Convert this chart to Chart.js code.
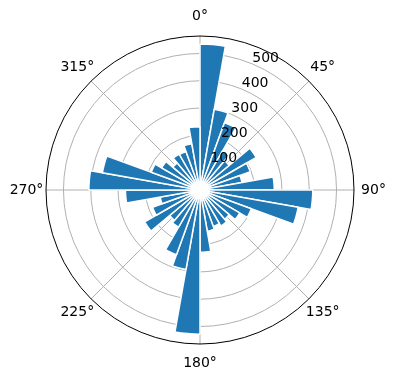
<!DOCTYPE html>
<html>
<head>
<meta charset="utf-8">
<script src="https://cdn.jsdelivr.net/npm/chart.js@4.4.1/dist/chart.umd.min.js"></script>
<style>
  html, body { margin: 0; padding: 0; background: #fff; }
</style>
</head>
<body>
<canvas id="rose" width="396" height="380"></canvas>
<script>
// 36 sectors of 10 degrees, clockwise from north
const directions = ['0°', '10°', '20°', '30°', '40°', '50°', '60°', '70°', '80°',
  '90°', '100°', '110°', '120°', '130°', '140°', '150°', '160°', '170°',
  '180°', '190°', '200°', '210°', '220°', '230°', '240°', '250°', '260°',
  '270°', '280°', '290°', '300°', '310°', '320°', '330°', '340°', '350°']
const counts = [535, 300, 262, 166, 140, 238, 196, 156, 272,
  413, 365, 200, 168, 140, 152, 142, 153, 228,
  528, 296, 252, 157, 145, 234, 185, 148, 273,
  407, 363, 190, 162, 130, 152, 150, 172, 232]
const radialTicks = [100, 200, 300, 400, 500]
const thetaTicks = [0, 45, 90, 135, 180, 225, 270, 315]
const rMax = 564

const FONT = '14px "DejaVu Sans"'
const GRID = '#b0b0b0'

const polarDecor = {
  id: 'polarDecor',
  beforeDatasetsDraw (chart) {
    const r = chart.scales.r
    const ctx = chart.ctx
    ctx.save()
    ctx.strokeStyle = GRID
    ctx.lineWidth = 1
    thetaTicks.forEach((deg) => {
      const a = (deg - 90) * Math.PI / 180
      ctx.beginPath()
      ctx.moveTo(r.xCenter, r.yCenter)
      ctx.lineTo(r.xCenter + Math.cos(a) * r.drawingArea, r.yCenter + Math.sin(a) * r.drawingArea)
      ctx.stroke()
    })
    ctx.restore()
  },
  afterDatasetsDraw (chart) {
    const r = chart.scales.r
    const ctx = chart.ctx
    ctx.save()
    ctx.font = FONT
    ctx.fillStyle = '#000'

    // angle labels outside the circle
    ctx.textAlign = 'center'
    ctx.textBaseline = 'middle'
    thetaTicks.forEach((deg) => {
      const a = (deg - 90) * Math.PI / 180
      const d = r.drawingArea + 19.5
      ctx.fillText(deg + '°', r.xCenter + Math.cos(a) * d, r.yCenter + Math.sin(a) * d)
    })

    // radial labels along 22.5°
    ctx.textAlign = 'left'
    ctx.textBaseline = 'bottom'
    const la = (22.5 - 90) * Math.PI / 180
    radialTicks.forEach((v) => {
      const d = r.getDistanceFromCenterForValue(v)
      ctx.fillText(String(v), r.xCenter + Math.cos(la) * d, r.yCenter + Math.sin(la) * d + 1)
    })

    // outer spine
    ctx.strokeStyle = '#000'
    ctx.lineWidth = 1
    ctx.beginPath()
    ctx.arc(r.xCenter, r.yCenter, r.drawingArea, 0, Math.PI * 2)
    ctx.stroke()
    ctx.restore()
  }
}

// eslint-disable-next-line no-new
new Chart(document.getElementById('rose'), {
  type: 'polarArea',
  data: {
    labels: directions,
    datasets: [{
      data: counts,
      backgroundColor: '#1f77b4',
      borderColor: '#ffffff',
      borderWidth: 1.5
    }]
  },
  options: {
    responsive: false,
    animation: false,
    devicePixelRatio: 1,
    layout: { padding: { left: 46, right: 42, top: 36, bottom: 36 } },
    plugins: {
      legend: { display: false },
      tooltip: { enabled: false }
    },
    scales: {
      r: {
        min: 0,
        max: rMax,
        startAngle: 0,
        ticks: { display: false, stepSize: 100 },
        grid: {
          circular: true,
          lineWidth: 1,
          color: (c) => (c.tick && c.tick.value >= rMax ? 'rgba(0,0,0,0)' : GRID)
        },
        angleLines: { display: false },
        pointLabels: { display: false }
      }
    }
  },
  plugins: [polarDecor]
})
</script>
</body>
</html>
